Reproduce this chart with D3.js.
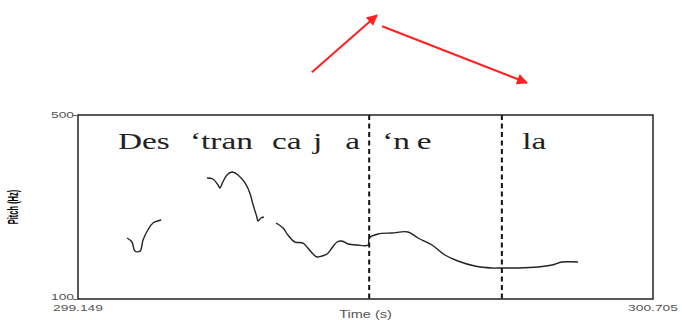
<!doctype html>
<html>
  <head>
    <script src="https://d3js.org/d3.v7.min.js"></script>
    <style>
      body { margin: 0; background: #fff; }
    </style>
  </head>
  <body>
    <div id="graphic"></div>
    <script>

// pitch contour, one array per voiced stretch: [time (s), pitch (Hz)]
var seg1 = [
  [299.282, 232.6], [299.295, 223.9], [299.303, 204.3], [299.317, 204.0],
  [299.325, 228.3], [299.338, 250.0], [299.352, 265.2], [299.374, 271.7]
];
var seg2 = [
  [299.498, 363.0], [299.514, 360.9], [299.528, 347.8], [299.533, 341.3],
  [299.541, 354.3], [299.552, 369.6], [299.566, 376.1], [299.582, 369.6],
  [299.601, 352.2], [299.614, 330.4], [299.623, 304.3], [299.633, 278.3],
  [299.636, 269.6], [299.644, 276.1], [299.652, 278.3]
];
var seg3 = [
  [299.685, 265.2], [299.704, 254.3], [299.717, 239.1], [299.736, 223.9],
  [299.758, 221.7], [299.771, 210.9], [299.785, 197.8], [299.796, 191.3],
  [299.809, 193.5], [299.823, 197.8], [299.836, 210.9], [299.850, 223.9],
  [299.863, 226.1], [299.880, 219.6], [299.904, 217.4], [299.934, 217.4],
  [299.937, 232.6], [299.961, 241.3], [299.999, 243.5], [300.042, 245.7],
  [300.069, 232.6], [300.107, 217.4], [300.142, 195.7], [300.177, 182.6],
  [300.223, 171.7], [300.269, 167.4], [300.296, 167.4], [300.340, 167.4],
  [300.394, 169.6], [300.432, 173.9], [300.459, 180.4], [300.502, 180.4]
];
var segments = [seg1, seg2, seg3];

// syllable labels and where they start (s)
var syllables = ["Des", "\u2018tran", "ca", "j", "a", "\u2018n", "e", "la"];
var syllableTimes = [299.257, 299.452, 299.674, 299.785, 299.872, 299.972, 300.066, 300.351];

// dotted boundaries (s)
var boundaries = [299.937, 300.296];

// axis ends
var timeRange = [299.149, 300.705];
var pitchRange = [100, 500];
var timeLabels = ["299.149", "300.705"];
var pitchLabels = ["100", "500"];

// intonation arrows: [from, to] as [time, Hz]
var arrows = [
  [[299.782, 593], [299.958, 717]],
  [[299.972, 693], [300.364, 570]]
];

var W = 682, H = 320;
var stretch = 1.45;   // the picture is wider than it is tall

var svg = d3.select("#graphic").append("svg")
  .attr("width", W)
  .attr("height", H);

var x = d3.scaleLinear().domain(timeRange).range([78, 653]);
var y = d3.scaleLinear().domain(pitchRange).range([299, 115]);

// arrowhead
svg.append("defs").append("marker")
  .attr("id", "head")
  .attr("viewBox", "0 0 10 10")
  .attr("refX", 9).attr("refY", 5)
  .attr("markerWidth", 13).attr("markerHeight", 11)
  .attr("markerUnits", "userSpaceOnUse")
  .attr("orient", "auto")
  .append("path")
  .attr("d", "M0,0 L10,5 L0,10 z")
  .attr("fill", "#ff2020");

// frame
svg.append("rect")
  .attr("x", x(timeRange[0]))
  .attr("y", y(pitchRange[1]))
  .attr("width", x(timeRange[1]) - x(timeRange[0]))
  .attr("height", y(pitchRange[0]) - y(pitchRange[1]))
  .attr("fill", "none")
  .attr("stroke", "#222")
  .attr("stroke-width", 1.5);

// y ticks
var yAxis = d3.axisLeft(y).tickValues(pitchRange).tickSize(5).tickFormat("");
svg.append("g")
  .attr("transform", "translate(" + x(timeRange[0]) + ",0)")
  .call(yAxis)
  .call(g => g.select(".domain").remove())
  .call(g => g.selectAll("line").attr("stroke", "#666"));

// stretched text helper
function stext(px, py, str, size, anchor, opts) {
  opts = opts || {};
  var sx = opts.sx || stretch;
  var g = svg.append("g")
    .attr("transform", "translate(" + px + "," + py + ") scale(" + sx + ",1)" + (opts.rotate ? " rotate(" + opts.rotate + ")" : ""));
  return g.append("text")
    .attr("text-anchor", anchor)
    .style("font-family", opts.family || "Liberation Sans, Arial, sans-serif")
    .style("font-size", size + "px")
    .style("font-weight", opts.weight || "normal")
    .style("fill", opts.color || "#555")
    .text(str);
}

pitchLabels.forEach(function (t, i) {
  stext(x(timeRange[0]) - 4, y(pitchRange[i]) + (i === 0 ? 1 : 3), t, 9.5, "end");
});
timeLabels.forEach(function (t, i) {
  stext(x(timeRange[i]), 311, t, 9.5, "middle");
});
stext((x(timeRange[0]) + x(timeRange[1])) / 2, 318, "Time (s)", 10, "middle");
stext(18, y(300), "Pitch (Hz)", 7.5, "middle", { rotate: -90, weight: "bold", color: "#000", sx: 1.9 });

// boundaries
svg.selectAll(".bound")
  .data(boundaries)
  .enter()
  .append("line")
  .attr("class", "bound")
  .attr("x1", d => x(d)).attr("x2", d => x(d))
  .attr("y1", y(pitchRange[1])).attr("y2", y(pitchRange[0]))
  .attr("stroke", "#111")
  .attr("stroke-width", 2)
  .attr("stroke-dasharray", "5,3.5");

// pitch contour
var line = d3.line()
  .x(d => x(d[0]))
  .y(d => y(d[1]))
  .curve(d3.curveCatmullRom);

svg.selectAll(".pitch")
  .data(segments)
  .enter()
  .append("path")
  .attr("class", "pitch")
  .attr("d", line)
  .attr("fill", "none")
  .attr("stroke", "#222")
  .attr("stroke-width", 1.4);

// syllables
syllables.forEach(function (s, i) {
  stext(x(syllableTimes[i]), 149, s, 23, "start", { family: "Liberation Serif, Times New Roman, serif", color: "#222" });
});

// arrows
svg.selectAll(".arrow")
  .data(arrows)
  .enter()
  .append("line")
  .attr("class", "arrow")
  .attr("x1", d => x(d[0][0])).attr("y1", d => y(d[0][1]))
  .attr("x2", d => x(d[1][0])).attr("y2", d => y(d[1][1]))
  .attr("stroke", "#ff2020")
  .attr("stroke-width", 2)
  .attr("marker-end", "url(#head)");

    </script>
  </body>
</html>
